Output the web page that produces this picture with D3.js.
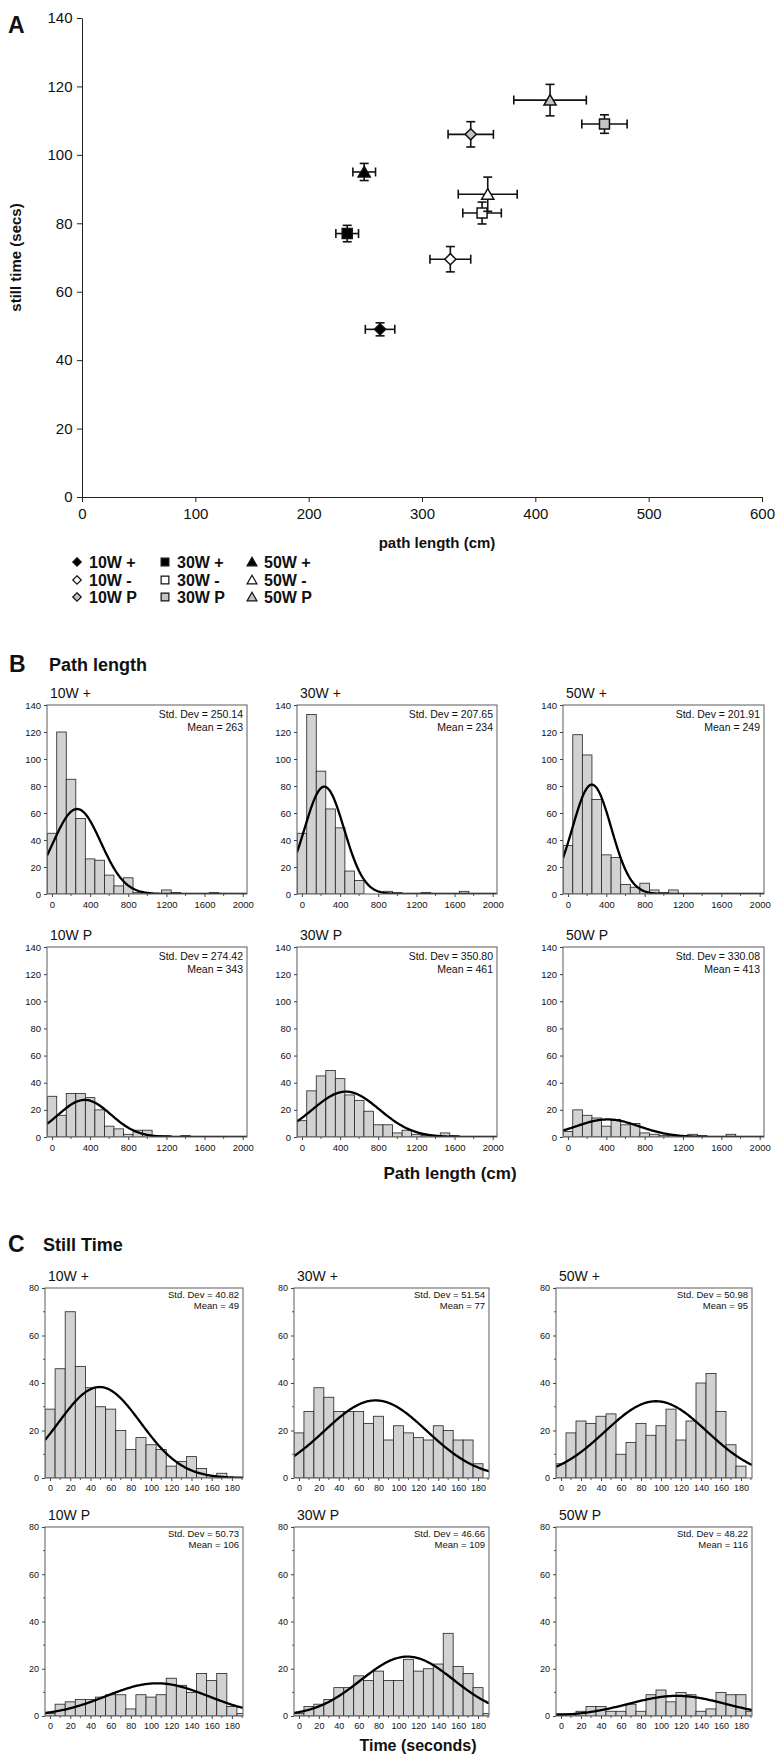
<!DOCTYPE html>
<html>
<head>
<meta charset="utf-8">
<script src="https://cdn.jsdelivr.net/npm/d3@7"></script>
<style>
  body { margin: 0; background: #fff; }
  svg { display: block; }
  text { font-family: "Liberation Sans", Arial, sans-serif; fill: #111; }
</style>
</head>
<body>
<svg id="fig" width="775" height="1758"></svg>
<script>
// ---------- Panel A: group means with SEM ----------
const groupLabels   = ["10W +", "10W -", "10W P", "30W +", "30W -", "30W P", "50W +", "50W -", "50W P"];
const pathLengthMean = [263, 325, 343, 234, 353, 461, 249, 358, 413];
const pathLengthSem  = [13, 18, 20, 10, 17, 20, 10, 26, 32];
const stillTimeMean  = [49, 69.5, 106, 77, 83, 109, 95, 88.5, 116];
const stillTimeSem   = [1.9, 3.7, 3.7, 2.4, 3.2, 2.7, 2.5, 5, 4.6];
const scatterXTicks  = [0, 100, 200, 300, 400, 500, 600];
const scatterYTicks  = [0, 20, 40, 60, 80, 100, 120, 140];

// ---------- Panel B: path length histograms (bins of 100 cm) ----------
const pathBinCenters = [0, 100, 200, 300, 400, 500, 600, 700, 800, 900, 1000,
                        1100, 1200, 1300, 1400, 1500, 1600, 1700, 1800, 1900, 2000];
const pathTitles = ["10W +", "30W +", "50W +", "10W P", "30W P", "50W P"];
const pathCounts = [
  [45, 120, 85, 56, 26, 25, 14, 6, 12, 1, 0, 0, 3, 1, 0, 0, 0, 1, 0, 0, 0],
  [45, 133, 91, 63, 49, 17, 10, 0, 0, 2, 1, 0, 0, 1, 0, 0, 0, 2, 0, 0, 0],
  [36, 118, 103, 70, 29, 27, 7, 5, 8, 3, 1, 3, 0, 0, 0, 0, 0, 0, 0, 0, 0],
  [30, 16, 32, 32, 29, 20, 8, 6, 2, 5, 5, 1, 1, 0, 1, 0, 0, 0, 0, 0, 0],
  [12, 34, 45, 49, 43, 31, 27, 19, 9, 9, 3, 5, 2, 1, 1, 3, 1, 0, 0, 0, 0],
  [4, 20, 16, 14, 8, 13, 9, 10, 3, 2, 1, 1, 1, 2, 1, 0, 0, 2, 0, 0, 0]
];
const pathSd   = [250.14, 207.65, 201.91, 274.42, 350.80, 330.08];
const pathMean = [263, 234, 249, 343, 461, 413];
const pathXTicks = [0, 400, 800, 1200, 1600, 2000];
const pathYTicks = [0, 20, 40, 60, 80, 100, 120, 140];

// ---------- Panel C: still time histograms (bins of 10 s) ----------
const timeBinCenters = [0, 10, 20, 30, 40, 50, 60, 70, 80, 90,
                        100, 110, 120, 130, 140, 150, 160, 170, 180, 190];
const timeTitles = ["10W +", "30W +", "50W +", "10W P", "30W P", "50W P"];
const timeCounts = [
  [29, 46, 70, 47, 38, 30, 29, 20, 12, 17, 14, 12, 5, 7, 9, 4, 1, 2, 0, 0],
  [19, 28, 38, 34, 28, 28, 28, 23, 26, 16, 22, 19, 17, 16, 22, 20, 16, 16, 6, 0],
  [6, 19, 24, 23, 26, 27, 10, 15, 23, 18, 22, 29, 16, 24, 40, 44, 28, 14, 5, 0],
  [1, 5, 6, 7, 7, 8, 9, 9, 3, 9, 8, 9, 16, 13, 10, 18, 15, 18, 4, 1],
  [1, 4, 5, 7, 12, 12, 17, 15, 19, 15, 15, 24, 19, 20, 22, 35, 21, 18, 12, 1],
  [1, 1, 2, 4, 4, 2, 2, 5, 2, 9, 11, 6, 10, 9, 2, 3, 10, 9, 9, 2]
];
const timeSd   = [40.82, 51.54, 50.98, 50.73, 46.66, 48.22];
const timeMean = [49, 77, 95, 106, 109, 116];
const timeXTicks = [0, 20, 40, 60, 80, 100, 120, 140, 160, 180];
const timeYTicks = [0, 20, 40, 60, 80];

const svg = d3.select("#fig");
const FONT = '"Liberation Sans", Arial, sans-serif';

// ---------- marker shapes ----------
const diamondType = {
  draw(ctx, size) {
    const r = Math.sqrt(size / 2);
    ctx.moveTo(0, -r); ctx.lineTo(r, 0); ctx.lineTo(0, r); ctx.lineTo(-r, 0); ctx.closePath();
  }
};
function shapeOf(i) {
  return [diamondType, d3.symbolSquare, d3.symbolTriangle][Math.floor(i / 3)];
}
function sizeOf(i) {
  return [62, 100, 64][Math.floor(i / 3)];
}
function fillOf(i) {
  return ["#000", "#fff", "#c4c4c4"][i % 3];
}

// ================= Panel A =================
const ax = d3.scaleLinear().domain([0, 600]).range([82, 762]);
const ay = d3.scaleLinear().domain([0, 140]).range([497, 18]);
const gA = svg.append("g");

gA.append("g").attr("transform", `translate(0,${ay(0)})`)
  .call(d3.axisBottom(ax).tickValues(scatterXTicks).tickSize(5).tickSizeOuter(0))
  .call(g => g.selectAll("text").attr("font-size", 15).attr("font-family", FONT).attr("fill", "#222").attr("dy", "0.95em"))
  .call(g => g.selectAll("line,path").attr("stroke", "#222"));
gA.append("g").attr("transform", `translate(${ax(0)},0)`)
  .call(d3.axisLeft(ay).tickValues(scatterYTicks).tickSize(5).tickSizeOuter(0))
  .call(g => g.selectAll("text").attr("font-size", 15).attr("font-family", FONT).attr("fill", "#222").attr("dx", "-0.1em"))
  .call(g => g.selectAll("line,path").attr("stroke", "#222"));

gA.append("text").attr("x", 8).attr("y", 33).attr("font-size", 23).attr("font-weight", "bold").text("A");
gA.append("text").attr("x", 437).attr("y", 548).attr("text-anchor", "middle")
  .attr("font-size", 15).attr("font-weight", "bold").text("path length (cm)");
gA.append("text").attr("transform", `translate(21,${ay(70)}) rotate(-90)`).attr("text-anchor", "middle")
  .attr("font-size", 15).attr("font-weight", "bold").text("still time (secs)");

const cap = 4.5;
groupLabels.forEach((lab, i) => {
  const cx = ax(pathLengthMean[i]), cy = ay(stillTimeMean[i]);
  const x0 = ax(pathLengthMean[i] - pathLengthSem[i]), x1 = ax(pathLengthMean[i] + pathLengthSem[i]);
  const y0 = ay(stillTimeMean[i] - stillTimeSem[i]), y1 = ay(stillTimeMean[i] + stillTimeSem[i]);
  const g = gA.append("g").attr("stroke", "#111").attr("stroke-width", 1.6).attr("fill", "none");
  g.append("line").attr("x1", x0).attr("x2", x1).attr("y1", cy).attr("y2", cy);
  g.append("line").attr("x1", x0).attr("x2", x0).attr("y1", cy - cap).attr("y2", cy + cap);
  g.append("line").attr("x1", x1).attr("x2", x1).attr("y1", cy - cap).attr("y2", cy + cap);
  g.append("line").attr("x1", cx).attr("x2", cx).attr("y1", y0).attr("y2", y1);
  g.append("line").attr("x1", cx - cap).attr("x2", cx + cap).attr("y1", y0).attr("y2", y0);
  g.append("line").attr("x1", cx - cap).attr("x2", cx + cap).attr("y1", y1).attr("y2", y1);
  const tri = Math.floor(i / 3) === 2;
  gA.append("path")
    .attr("d", d3.symbol().type(shapeOf(i)).size(sizeOf(i))())
    .attr("transform", `translate(${cx},${cy + (tri ? 1.5 : 0)})`)
    .attr("fill", fillOf(i)).attr("stroke", "#111").attr("stroke-width", 1.5);
});

// legend: columns by weight, rows by condition
const legX = [77, 165, 252], legY = [562, 580, 597];
groupLabels.forEach((lab, i) => {
  const col = Math.floor(i / 3), row = i % 3;
  const tri = col === 2;
  gA.append("path")
    .attr("d", d3.symbol().type(shapeOf(i)).size([36, 60, 42][col])())
    .attr("transform", `translate(${legX[col]},${legY[row] + (tri ? 1 : 0)})`)
    .attr("fill", fillOf(i)).attr("stroke", "#111").attr("stroke-width", 1.2);
  gA.append("text").attr("x", legX[col] + 12).attr("y", legY[row] + 6)
    .attr("font-size", 16).attr("font-weight", "bold").text(lab);
});

// ================= histogram helper =================
let clipId = 0;
function histogram(o) {
  const g = svg.append("g");
  const x = d3.scaleLinear().domain(o.xDomain).range([o.left, o.right]);
  const y = d3.scaleLinear().domain(o.yDomain).range([o.bottom, o.top]);
  const id = "clip" + (clipId++);
  g.append("clipPath").attr("id", id).append("rect")
    .attr("x", o.left).attr("y", o.top - 2).attr("width", o.right - o.left).attr("height", o.bottom - o.top + 2);
  const plot = g.append("g").attr("clip-path", `url(#${id})`);

  plot.selectAll("rect.bar").data(o.counts.map((c, k) => ({ c, center: o.centers[k] })).filter(d => d.c > 0))
    .join("rect").attr("class", "bar")
    .attr("x", d => x(d.center - o.binWidth / 2))
    .attr("width", d => x(d.center + o.binWidth / 2) - x(d.center - o.binWidth / 2))
    .attr("y", d => y(d.c))
    .attr("height", d => y(0) - y(d.c))
    .attr("fill", "#d2d2d2").attr("stroke", "#222").attr("stroke-width", 0.8);

  // fitted normal curve scaled to the counts
  const n = d3.sum(o.counts);
  const k = n * o.binWidth / (o.sd * Math.sqrt(2 * Math.PI));
  const xs = d3.range(o.xDomain[0], o.xDomain[1], (o.xDomain[1] - o.xDomain[0]) / 200).concat([o.xDomain[1]]);
  const pts = xs.map(v => [v, k * Math.exp(-0.5 * ((v - o.mean) / o.sd) ** 2)]);
  plot.append("path").attr("d", d3.line().x(d => x(d[0])).y(d => y(d[1]))(pts))
    .attr("fill", "none").attr("stroke", "#000").attr("stroke-width", 2.3);

  // frame
  g.append("rect").attr("x", o.left).attr("y", o.top).attr("width", o.right - o.left).attr("height", o.bottom - o.top)
    .attr("fill", "none").attr("stroke", "#6a6a6a").attr("stroke-width", 1.1);

  // axes
  const xa = g.append("g").attr("transform", `translate(0,${o.bottom})`)
    .call(d3.axisBottom(x).tickValues(o.xTicks).tickFormat(d3.format("d")).tickSize(3).tickSizeOuter(0));
  xa.select(".domain").remove();
  xa.selectAll("text").attr("font-size", o.tickFont).attr("font-family", FONT).attr("fill", "#222").attr("dy", "0.8em");
  xa.selectAll("line").attr("stroke", "#444");
  g.append("g").selectAll("line").data(o.xMinor).join("line")
    .attr("x1", d => x(d)).attr("x2", d => x(d)).attr("y1", o.bottom).attr("y2", o.bottom + 2)
    .attr("stroke", "#555").attr("stroke-width", 1);

  const ya = g.append("g").attr("transform", `translate(${o.left},0)`)
    .call(d3.axisLeft(y).tickValues(o.yTicks).tickFormat(d3.format("d")).tickSize(3).tickSizeOuter(0));
  ya.select(".domain").remove();
  ya.selectAll("text").attr("font-size", o.tickFont).attr("font-family", FONT).attr("fill", "#222");
  ya.selectAll("line").attr("stroke", "#444");
  g.append("g").selectAll("line").data(o.yMinor).join("line")
    .attr("x1", o.left - 2).attr("x2", o.left).attr("y1", d => y(d)).attr("y2", d => y(d))
    .attr("stroke", "#555").attr("stroke-width", 1);

  g.append("text").attr("x", o.left + 3).attr("y", o.top - 7).attr("font-size", 14).text(o.title);
  g.append("text").attr("x", o.right - 4).attr("y", o.top + o.statDy[0]).attr("text-anchor", "end")
    .attr("font-size", o.statFont).text(`Std. Dev = ${d3.format(".2f")(o.sd)}`);
  g.append("text").attr("x", o.right - 4).attr("y", o.top + o.statDy[1]).attr("text-anchor", "end")
    .attr("font-size", o.statFont).text(`Mean = ${o.mean}`);
}

// ================= Panel B =================
svg.append("text").attr("x", 9).attr("y", 672).attr("font-size", 23).attr("font-weight", "bold").text("B");
svg.append("text").attr("x", 49).attr("y", 671).attr("font-size", 18).attr("font-weight", "bold").text("Path length");
const bCols = [[47, 247], [297, 497], [563, 764]];
const bRows = [[705, 894], [947, 1137]];
pathTitles.forEach((t, i) => {
  const c = bCols[i % 3], r = bRows[Math.floor(i / 3)];
  histogram({
    left: c[0], right: c[1], top: r[0], bottom: r[1],
    xDomain: [-52, 2045], yDomain: [0, 140],
    centers: pathBinCenters, counts: pathCounts[i], binWidth: 100,
    sd: pathSd[i], mean: pathMean[i],
    xTicks: pathXTicks, xMinor: [200, 600, 1000, 1400, 1800],
    yTicks: pathYTicks, yMinor: [],
    title: t, tickFont: 9.5, statFont: 10.5, statDy: [13, 26]
  });
});
svg.append("text").attr("x", 450).attr("y", 1179).attr("text-anchor", "middle")
  .attr("font-size", 17).attr("font-weight", "bold").text("Path length (cm)");

// ================= Panel C =================
svg.append("text").attr("x", 8).attr("y", 1252).attr("font-size", 23).attr("font-weight", "bold").text("C");
svg.append("text").attr("x", 43).attr("y", 1251).attr("font-size", 18).attr("font-weight", "bold").text("Still Time");
const cCols = [[45, 243], [294, 489], [556, 752]];
const cRows = [[1288, 1478], [1527, 1716]];
timeTitles.forEach((t, i) => {
  const c = cCols[i % 3], r = cRows[Math.floor(i / 3)];
  histogram({
    left: c[0], right: c[1], top: r[0], bottom: r[1],
    xDomain: [-5, 191], yDomain: [0, 80],
    centers: timeBinCenters, counts: timeCounts[i], binWidth: 10,
    sd: timeSd[i], mean: timeMean[i],
    xTicks: timeXTicks, xMinor: [10, 30, 50, 70, 90, 110, 130, 150, 170, 190],
    yTicks: timeYTicks, yMinor: [10, 30, 50, 70],
    title: t, tickFont: 9, statFont: 9.5, statDy: [10, 21]
  });
});
svg.append("text").attr("x", 418).attr("y", 1751).attr("text-anchor", "middle")
  .attr("font-size", 16).attr("font-weight", "bold").text("Time (seconds)");
</script>
</body>
</html>
